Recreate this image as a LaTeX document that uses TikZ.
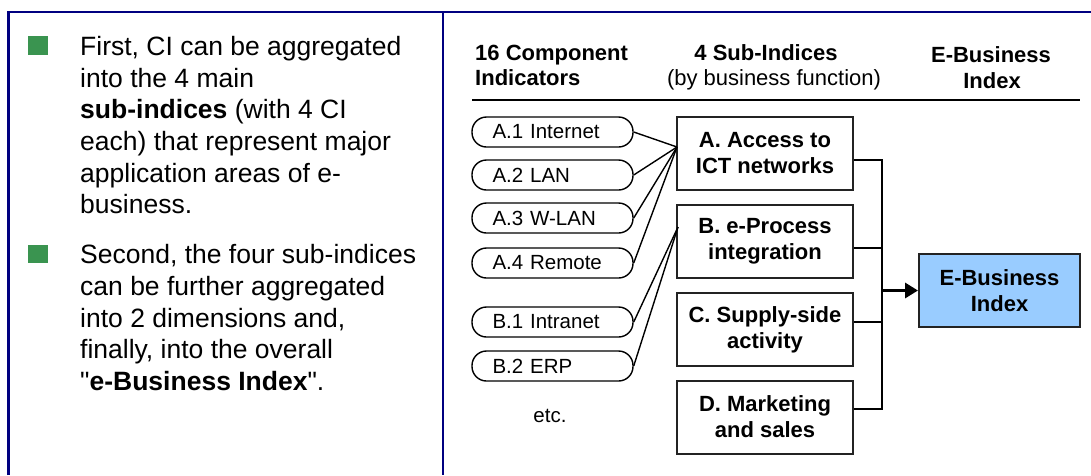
\documentclass[tikz,border=0pt]{standalone}
\usepackage{fontspec}
\setmainfont{Liberation Sans}[Ligatures=TeXOff]
\usetikzlibrary{arrows.meta}
\definecolor{framenavy}{RGB}{0,0,128}
\definecolor{bulletgreen}{RGB}{58,148,80}
\definecolor{indexblue}{RGB}{153,204,255}
\definecolor{boxline}{RGB}{35,35,35}

\begin{document}
\begin{tikzpicture}[x=1pt,y=-1pt,
  bodytext/.style={anchor=base west, inner sep=0pt, font=\fontsize{26.5}{31.7}\selectfont},
  headtext/.style={anchor=base, inner sep=0pt, font=\fontsize{22}{25}\selectfont},
  indicator/.style={draw=black, line width=1.4pt, rounded corners=14.5pt,
    minimum height=30pt, inner ysep=0pt, inner xsep=20.5pt, text width=120pt,
    align=left, font=\fontsize{20.5}{24}\selectfont},
  subindex/.style={draw=boxline, line width=2pt, minimum width=176pt, minimum height=73pt,
    inner sep=0pt, align=center, font=\fontsize{22}{26}\selectfont\bfseries},
  link/.style={draw=black, line width=1.4pt},
  bullet/.style={fill=bulletgreen}]

\useasboundingbox (0,0) rectangle (1091,475);

% panel frame
\draw[framenavy, line width=2.2pt] (8.5,475) -- (8.5,12) -- (1091,12);
\draw[framenavy, line width=2.2pt] (443,12) -- (443,475);

% left panel: bullet points
\fill[bullet] (28,36) rectangle (48,55);
\fill[bullet] (28,245) rectangle (48,263);

\node[bodytext] (p1) at (80,55)  {First, CI can be aggregated};
\node[bodytext] (p2) at (80,87)  {into the 4 main};
\node[bodytext] (p3) at (80,118) {\textbf{sub-indices} (with 4 CI};
\node[bodytext] (p4) at (80,150) {each) that represent major};
\node[bodytext] (p5) at (80,182) {application areas of e-};
\node[bodytext] (p6) at (80,213) {business.};

\node[bodytext] (q1) at (80,263) {Second, the four sub-indices};
\node[bodytext] (q2) at (80,295) {can be further aggregated};
\node[bodytext] (q3) at (80,327) {into 2 dimensions and,};
\node[bodytext] (q4) at (80,358) {finally, into the overall};
\node[bodytext] (q5) at (80,390) {"\textbf{e-Business Index}".};

% right panel: column headings
\node[headtext, anchor=base west, font=\fontsize{22}{25}\selectfont\bfseries] (h1a) at (475,60) {16 Component};
\node[headtext, anchor=base west, font=\fontsize{22}{25}\selectfont\bfseries] (h1b) at (475,85) {Indicators};
\node[headtext, font=\fontsize{22}{25}\selectfont\bfseries] (h2a) at (766,60) {4 Sub-Indices};
\node[headtext] (h2b) at (774,85) {(by business function)};
\node[headtext, font=\fontsize{22}{25}\selectfont\bfseries] (h3a) at (991,62) {E-Business};
\node[headtext, font=\fontsize{22}{25}\selectfont\bfseries] (h3b) at (992,88) {Index};
\draw[line width=2pt] (472,100) -- (1080,100);

% component indicators
\node[indicator] (a1) at (552.5,132) {A.1 Internet};
\node[indicator] (a2) at (552.5,175) {A.2 LAN};
\node[indicator] (a3) at (552.5,218) {A.3 W-LAN};
\node[indicator] (a4) at (552.5,263) {A.4 Remote};
\node[indicator] (b1) at (552.5,322) {B.1 Intranet};
\node[indicator] (b2) at (552.5,366) {B.2 ERP};
\node[inner sep=0pt, anchor=base, font=\fontsize{20.5}{24}\selectfont] (etc) at (550,422) {etc.};

% sub-indices
\node[subindex] (sa) at (765,153.5) {A. Access to\\ICT networks};
\node[subindex] (sb) at (765,241)   {B. e-Process\\integration};
\node[subindex] (sc) at (765,329.5) {C. Supply-side\\activity};
\node[subindex] (sd) at (765,417)   {D. Marketing\\and sales};

% overall index
\node[subindex, fill=indexblue, minimum width=161pt] (ebi) at (999.5,290.5) {E-Business\\Index};

% indicators feeding the sub-indices
\coordinate (ain) at (677,147);
\coordinate (bin) at (678,227);
\foreach \n in {a1,a2,a3,a4} \draw[link] (\n.east) -- (ain);
\foreach \n in {b1,b2} \draw[link] (\n.east) -- (bin);

% sub-indices combined into the index
\coordinate (ja) at (882,160);
\coordinate (jd) at (882,409);
\coordinate (jm) at (882,290.5);
\draw[link] (sa.east |- ja) -- (ja) -- (jd) -- (sd.east |- jd);
\draw[link] (sb.east |- 0,248) -- (882,248);
\draw[link] (sc.east |- 0,322) -- (882,322);
\draw[line width=3.2pt, -{Triangle[length=13pt,width=15pt]}] (jm) -- (ebi.west);
\end{tikzpicture}
\end{document}
